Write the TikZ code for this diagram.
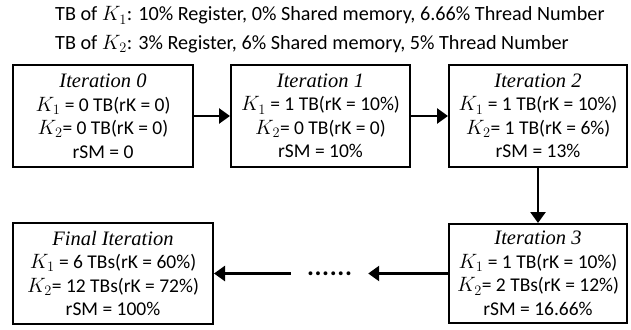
\documentclass[tikz,border=0pt]{standalone}
\usepackage{fontspec}
\setmainfont{Carlito}
\newfontfamily\headfont{Liberation Serif}
\usepackage{tikz}
\usetikzlibrary{arrows.meta,positioning}
\newcommand{\iterhead}[1]{{\headfont\itshape\fontsize{20.5}{23}\selectfont #1}}
\tikzset{
iterbox/.style={draw, line width=2pt, align=center, inner sep=0pt, minimum height=102pt}, % one iteration
flow/.style={line width=2.6pt, -{Triangle[length=11pt,width=15pt]}}, % thick arrows between iterations
note/.style={anchor=base west, inner sep=0pt, font=\fontsize{20.2}{24}\selectfont}, % text above the boxes
}

\begin{document}
\begin{tikzpicture}[x=1pt,y=-1pt,font=\fontsize{19.5}{23.5}\selectfont]
    \useasboundingbox (0,0) rectangle (631,329);
    % resource use of one TB per kernel
    \node[note] (tbk1) at (55,21) {TB of $K_1$: 10\% Register, 0\% Shared memory, 6.66\% Thread Number};
    \node[note] (tbk2) at (55,49) {TB of $K_2$: 3\% Register, 6\% Shared memory, 5\% Thread Number};
    % iterations
    \node[iterbox, minimum width=180pt] (it0) at (103,116) {\iterhead{Iteration 0}\\ $K_1$ = 0 TB(rK = 0)\\ $K_2$= 0 TB(rK = 0)\\ rSM = 0};
    \node[iterbox, minimum width=179pt] (it1) at (320.5,116) {\iterhead{Iteration 1}\\ $K_1$ = 1 TB(rK = 10\%)\\ $K_2$= 0 TB(rK = 0)\\ rSM = 10\%};
    \node[iterbox, minimum width=178pt] (it2) at (538,116) {\iterhead{Iteration 2}\\ $K_1$ = 1 TB(rK = 10\%)\\ $K_2$= 1 TB(rK = 6\%)\\ rSM = 13\%};
    \node[iterbox, minimum width=178pt, minimum height=99pt] (it3) at (538,273.5) {\iterhead{Iteration 3}\\ $K_1$ = 1 TB(rK = 10\%)\\ $K_2$= 2 TBs(rK = 12\%)\\ rSM = 16.66\%};
    \node[iterbox, minimum width=200pt, minimum height=101pt] (fin) at (113,273.5) {\iterhead{Final Iteration}\\ $K_1$ = 6 TBs(rK = 60\%)\\ $K_2$= 12 TBs(rK = 72\%)\\ rSM = 100\%};
    \node[inner xsep=16pt, inner ysep=0pt] (dots) at (329.5,273.5) {\fontsize{26}{26}\selectfont\makebox[45pt]{\textbf{.\hfill.\hfill.\hfill.\hfill.\hfill.}}};
    % arrows
    \draw[flow] (it0) -- (it1);
    \draw[flow] (it1) -- (it2);
    \draw[flow] (it2) -- (it3);
    \draw[flow] (it3) -- (dots);
    \draw[flow] (dots) -- (fin);
\end{tikzpicture}
\end{document}
